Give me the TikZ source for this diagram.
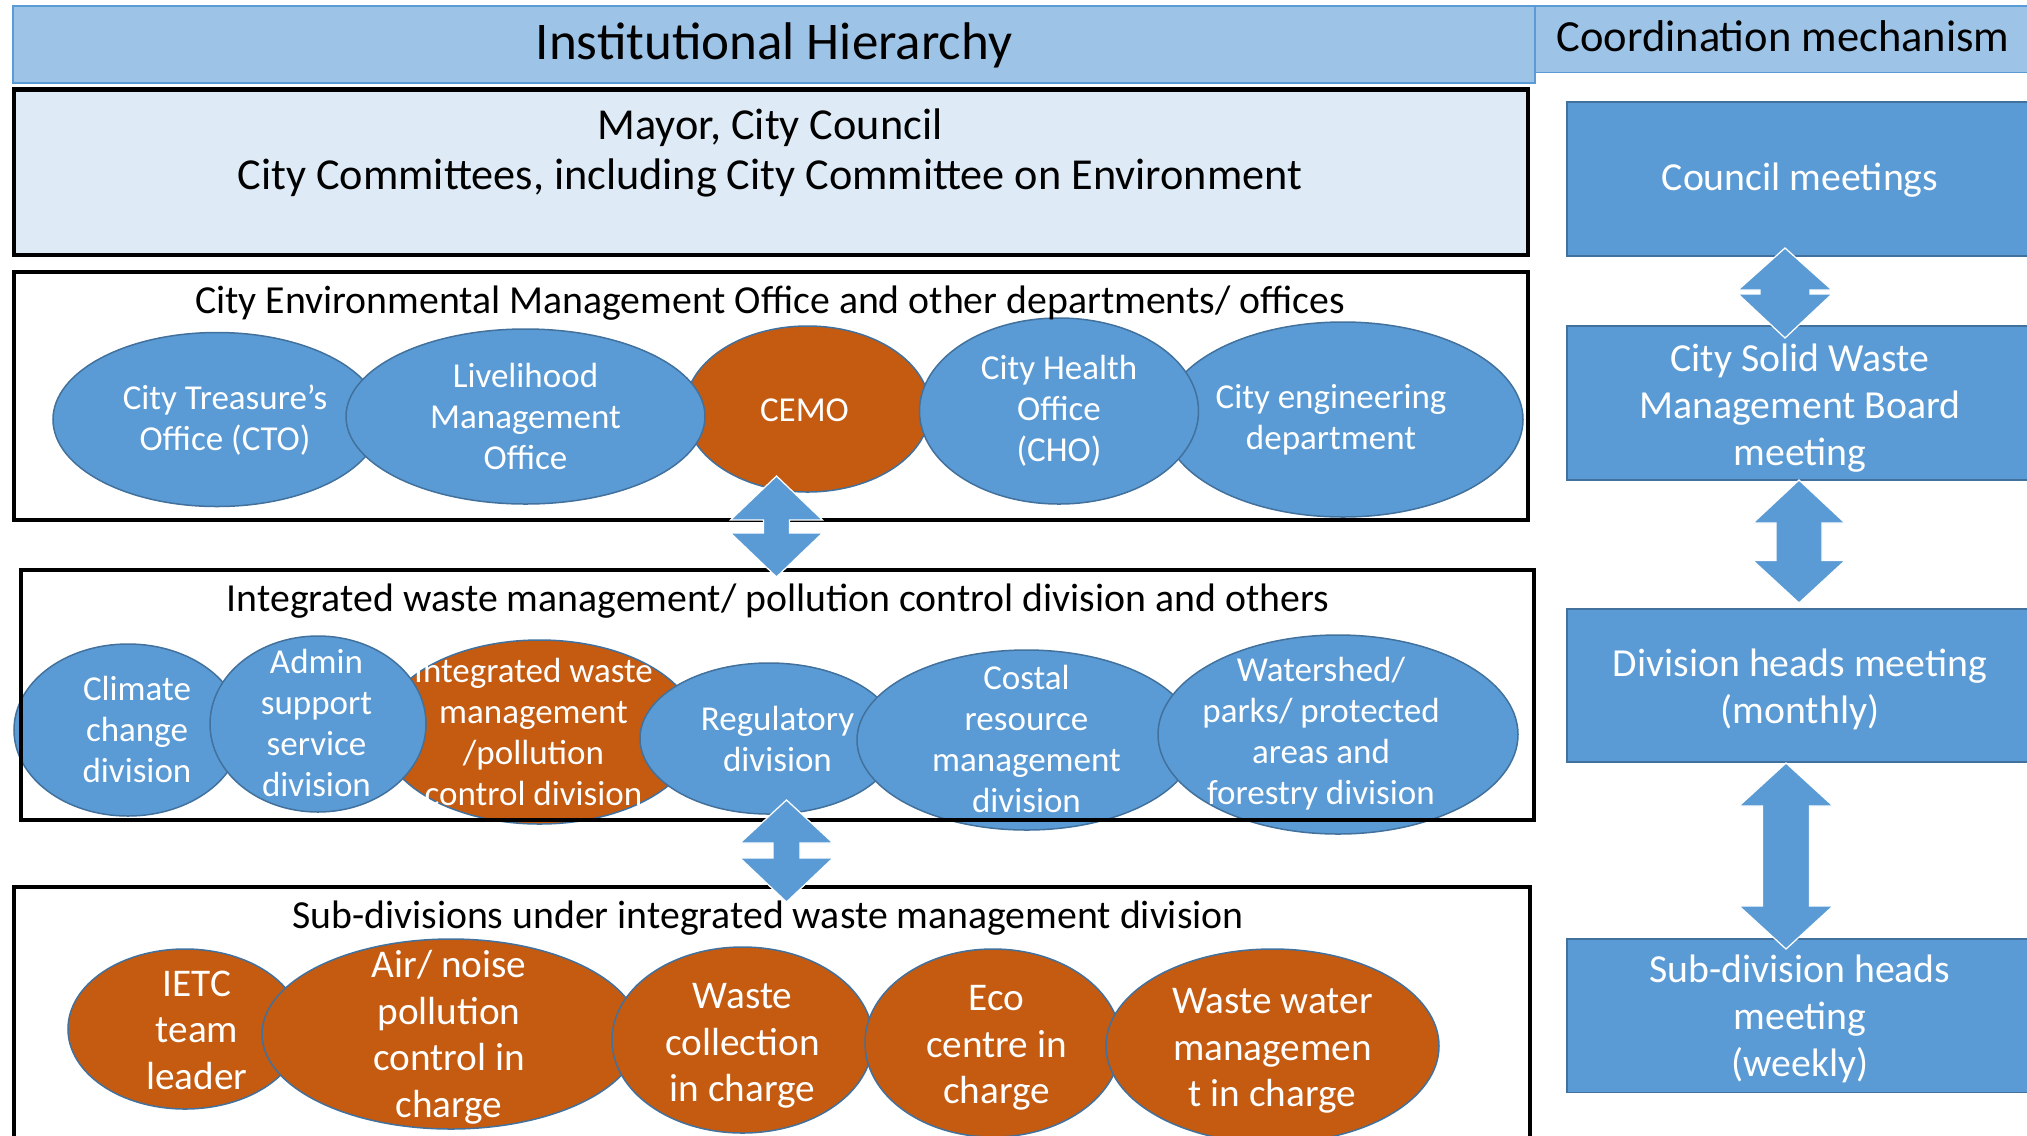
\documentclass[tikz,border=0pt]{standalone}
\usepackage{fontspec}
\setmainfont{Carlito}
\usetikzlibrary{shapes.geometric,fit}
\definecolor{hdr}{HTML}{9DC3E6}
\definecolor{acc}{HTML}{5B9BD5}
\definecolor{accd}{HTML}{41719C}
\definecolor{org}{HTML}{C55A11}
\definecolor{pale}{HTML}{DEEBF7}
\newcommand\dblarrow[7]{% cx, top, bottom, head half, shaft half, top base, bottom base
  \path[barrow] (#1,#2) -- (#1+#4,#6) -- (#1+#5,#6) -- (#1+#5,#7) -- (#1+#4,#7) -- (#1,#3)
    -- (#1-#4,#7) -- (#1-#5,#7) -- (#1-#5,#6) -- (#1-#4,#6) -- cycle;}
\begin{document}
\begin{tikzpicture}[x=0.4pt,y=-0.4pt,
  hdrbox/.style={draw=acc, line width=0.6pt, fill=hdr, inner sep=0pt},
  blkbox/.style={draw=black, line width=1.7pt, inner sep=0pt},
  bluebox/.style={draw=accd, line width=0.6pt, fill=acc, inner sep=0pt},
  ell/.style n args={2}{ellipse, draw=accd, line width=0.6pt, inner sep=0pt, minimum width=#1*0.8pt, minimum height=#2*0.8pt},
  bell/.style n args={2}{ell={#1}{#2}, fill=acc},
  oell/.style n args={2}{ell={#1}{#2}, fill=org},
  etxt/.style={text=white, align=center, inner sep=0pt, font=\fontsize{14}{16.4}\selectfont},
  otxt/.style={text=white, align=center, inner sep=0pt, font=\fontsize{15.7}{18.6}\selectfont},
  rtxt/.style={text=white, align=center, inner sep=0pt, font=\fontsize{15.9}{18.8}\selectfont},
  ttl/.style={anchor=base, inner sep=0pt, font=\fontsize{15.9}{19}\selectfont},
  barrow/.style={fill=acc, draw=white, line width=0.5pt}
]
\useasboundingbox (0,0) rectangle (2027,1135);

% headers
\coordinate (h1a) at (13,6); \coordinate (h1b) at (1535,83);
\node[hdrbox, fit=(h1a)(h1b)] (hdrL) {};
\coordinate (h2a) at (1535,6); \coordinate (h2b) at (2040,72.5);
\node[hdrbox, fit=(h2a)(h2b)] (hdrR) {};
\node[anchor=base, inner sep=0pt, font=\fontsize{21.2}{25}\selectfont] (tL) at (774,59) {Institutional Hierarchy};
\node[anchor=base, inner sep=0pt, font=\fontsize{17.8}{21}\selectfont] (tR) at (1783,51.8) {Coordination mechanism};

% Mayor box
\coordinate (m1) at (14,89.5); \coordinate (m2) at (1528,255);
\node[blkbox, fill=pale, fit=(m1)(m2)] (mayor) {};
\node[anchor=base, inner sep=0pt, font=\fontsize{17.7}{20}\selectfont] (may1) at (770,139) {Mayor, City Council};
\node[anchor=base, inner sep=0pt, font=\fontsize{17.7}{20}\selectfont] (may2) at (770,189.5) {City Committees, including City Committee on Environment};

% Row 1
\node[bell={164}{87}] (cto) at (217,419.5) {};
\node[etxt] (ctot) at (225,420) {City Treasure’s\\Office (CTO)};
\node[oell={122.5}{83}] (cemo) at (807.5,409) {};
\node[etxt] (cemot) at (804.5,410) {CEMO};
\node[bell={180}{97.5}] (eng) at (1343,419.5) {};
\node[etxt] (engt) at (1331,420) {City engineering\\department};
\node[bell={179.5}{87.5}] (liv) at (525.5,416.5) {};
\node[etxt] (livt) at (525.5,416) {Livelihood\\Management\\Office};
\node[bell={139.5}{93}] (cho) at (1059,411) {};
\node[etxt] (chot) at (1059,411) {City Health\\Office\\(CHO)};
\coordinate (c1) at (14,272); \coordinate (c2) at (1528,520);
\node[blkbox, fit=(c1)(c2)] (cemobox) {};
\node[ttl] (cemottl) at (770,313.6) {City Environmental Management Office and other departments/ offices};

% Row 2
\node[bell={114}{86}] (clim) at (128,730) {};
\node[etxt] (climt) at (137,729) {Climate\\change\\division};
\node[oell={158.5}{92}] (iwm) at (539.5,732) {};
\node[etxt] (iwmt) at (533.5,732) {Integrated waste\\management\\/pollution\\control division};
\node[bell={108}{88}] (adm) at (318,724) {};
\node[etxt] (admt) at (316.5,723) {Admin\\support\\service\\division};
\node[bell={129}{75.5}] (reg) at (769,738.5) {};
\node[etxt] (regt) at (777.5,739) {Regulatory\\division};
\node[bell={169.5}{90}] (cos) at (1026.5,740) {};
\node[etxt] (cost) at (1026.5,739) {Costal\\resource\\management\\division};
\node[bell={180}{99.5}] (wat) at (1338,734.5) {};
\node[etxt] (watt) at (1321,734) {Watershed/\\parks/ protected\\areas and\\forestry division};
\coordinate (d1) at (21,570); \coordinate (d2) at (1534,820);
\node[blkbox, fit=(d1)(d2)] (divbox) {};
\node[ttl] (divttl) at (778,611) {Integrated waste management/ pollution control division and others};

% Row 3
\coordinate (s1) at (14,887); \coordinate (s2) at (1530,1160);
\node[blkbox, fit=(s1)(s2)] (subbox) {};
\node[ttl] (subttl) at (768,928) {Sub-divisions under integrated waste management division};
\node[oell={117}{80}] (ietc) at (185,1029) {};
\node[otxt] (ietct) at (197,1030) {IETC\\team\\leader};
\node[oell={189}{95}] (air) at (451,1034) {};
\node[otxt] (airt) at (449,1037) {Air/ noise\\pollution\\control in\\charge};
\node[oell={130.5}{93}] (wc) at (742.5,1040) {};
\node[otxt] (wct) at (742.5,1046) {Waste\\collection\\in charge};
\node[oell={128}{94}] (eco) at (993,1043) {};
\node[otxt] (ecot) at (996.5,1048) {Eco\\centre in\\charge};
\node[oell={166.5}{97}] (ww) at (1272.5,1046) {};
\node[otxt] (wwt) at (1272.5,1051) {Waste water\\managemen\\t in charge};

% Right column
\coordinate (r1a) at (1567,102); \coordinate (r1b) at (2040,256);
\node[bluebox, fit=(r1a)(r1b)] (council) {};
\node[rtxt] (councilt) at (1800,180) {Council meetings};
\coordinate (r2a) at (1567,326); \coordinate (r2b) at (2040,480);
\node[bluebox, fit=(r2a)(r2b)] (board) {};
\node[rtxt] (boardt) at (1800,408) {City Solid Waste\\Management Board\\meeting};
\coordinate (r3a) at (1567,609); \coordinate (r3b) at (2040,762);
\node[bluebox, fit=(r3a)(r3b)] (divm) {};
\node[rtxt] (divmt) at (1800,689) {Division heads meeting\\(monthly)};
\coordinate (r4a) at (1567,939); \coordinate (r4b) at (2040,1092.5);
\node[bluebox, fit=(r4a)(r4b)] (subm) {};
\node[rtxt] (submt) at (1800,1019) {Sub-division heads\\meeting\\(weekly)};

% block arrows
\dblarrow{776.5}{476}{577}{46}{13}{520}{533}
\dblarrow{786.5}{800}{902}{46.5}{13.5}{843}{858}
\dblarrow{1785}{248}{338}{47}{25}{290}{294}
\dblarrow{1799}{480}{603}{46}{23}{523}{560.6}
\dblarrow{1786}{763}{949}{47}{23.5}{806}{906}
\end{tikzpicture}
\end{document}
